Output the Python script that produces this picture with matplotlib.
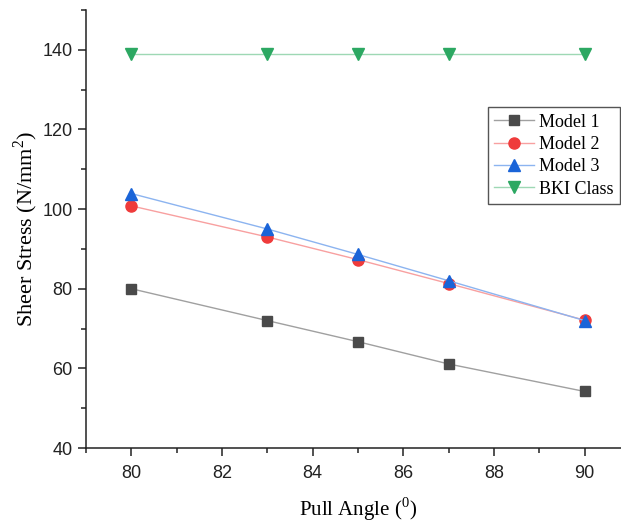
import matplotlib
matplotlib.use("Agg")
import matplotlib.pyplot as plt
from matplotlib.ticker import MultipleLocator

plt.rcParams['mathtext.fontset'] = 'custom'
plt.rcParams['mathtext.rm'] = 'Liberation Serif'

# data
angle = [80, 83, 85, 87, 90]
model1 = [80.0, 72.0, 66.7, 61.1, 54.2]
model2 = [100.8, 93.0, 87.3, 81.3, 72.1]
model3 = [103.9, 95.0, 88.6, 82.0, 72.0]
bki = [139, 139, 139, 139, 139]

fig = plt.figure(figsize=(6.21, 5.24), dpi=100)
ax = fig.add_axes([0.1385, 0.145, 0.876, 0.836])

ax.plot(angle, model1, color='#a0a0a0', lw=1, marker='s', ms=7,
        mfc='#4a4a4a', mec='#4a4a4a', label='Model 1')
ax.plot(angle, model2, color='#f8a0a0', lw=1, marker='o', ms=8,
        mfc='#ef3b3b', mec='#ef3b3b', label='Model 2')
ax.plot(angle, model3, color='#8cb4f0', lw=1, marker='^', ms=8.5,
        mfc='#1a64d8', mec='#1a64d8', label='Model 3')
ax.plot(angle, bki, color='#9ed8b4', lw=1, marker='v', ms=8.5,
        mfc='#2ca862', mec='#2ca862', label='BKI Class')

ax.set_xlim(79, 91)
ax.set_ylim(40, 150)
ax.xaxis.set_major_locator(MultipleLocator(2))
ax.xaxis.set_minor_locator(MultipleLocator(1))
ax.yaxis.set_major_locator(MultipleLocator(20))
ax.yaxis.set_minor_locator(MultipleLocator(10))

for s in ['top', 'right']:
    ax.spines[s].set_visible(False)
for s in ['left', 'bottom']:
    ax.spines[s].set_linewidth(1.1)
    ax.spines[s].set_color('#222222')

ax.tick_params(which='major', direction='out', length=6, width=1.1,
               labelsize=13, colors='#222222')
ax.tick_params(axis='x', which='major', pad=6)
ax.tick_params(which='minor', direction='out', length=3.5, width=1.1, colors='#222222')
for lab in ax.get_xticklabels() + ax.get_yticklabels():
    lab.set_family('Liberation Sans')

ax.set_xlabel(r'Pull Angle ($^\mathregular{0}$)', family='Liberation Serif',
              fontsize=15, labelpad=10)
ax.set_ylabel(r'Sheer Stress (N/mm$^\mathregular{2}$)', family='Liberation Serif',
              fontsize=16, labelpad=2)

leg = ax.legend(loc='upper left', bbox_to_anchor=(0.739, 0.778),
                prop={'family': 'Liberation Serif', 'size': 13},
                fancybox=False, framealpha=1, edgecolor='#555555',
                handlelength=2.2, handletextpad=0.3, borderpad=0.35,
                labelspacing=0.3, borderaxespad=0)
leg.get_frame().set_linewidth(1)

fig.savefig('out.png', dpi=100)
